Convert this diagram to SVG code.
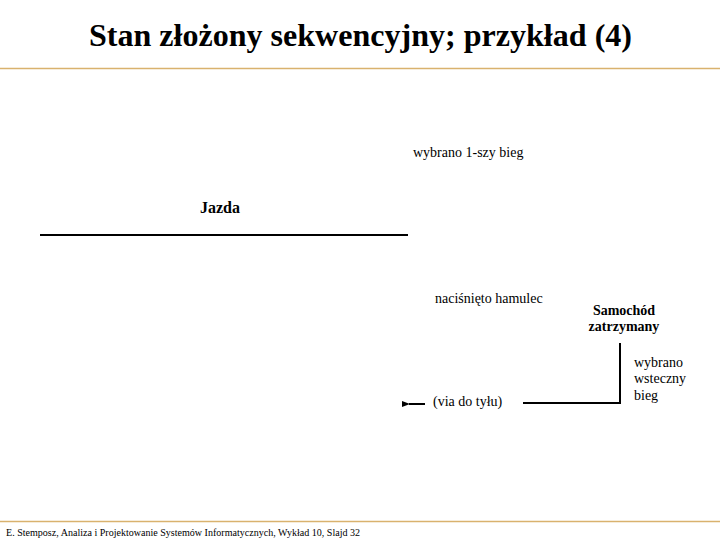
<svg xmlns="http://www.w3.org/2000/svg" width="720" height="540" viewBox="0 0 720 540">
<style>
text{font-family:"Liberation Serif","Times New Roman",serif;fill:#000}
.t{font-size:14px}
.b{font-weight:bold}
.rule{stroke:#d9b26e;stroke-width:1.5}
.ln{stroke:#000;stroke-width:2;fill:none}
</style>
<defs>
<marker id="ah" markerWidth="8" markerHeight="8" refX="1" refY="4" orient="auto" markerUnits="userSpaceOnUse">
<path d="M8,1 L0,4 L8,7 Z" fill="#000"/>
</marker>
</defs>
<rect width="720" height="540" fill="#fff"/>
<text x="89" y="46" textLength="543" lengthAdjust="spacingAndGlyphs" class="b" style="font-size:32px">Stan złożony sekwencyjny; przykład (4)</text>
<line class="rule" x1="0" y1="68.5" x2="720" y2="68.5"/>
<line class="rule" x1="0" y1="521.5" x2="720" y2="521.5"/>
<g id="jazda">
<text x="200" y="213" class="b" style="font-size:16px">Jazda</text>
<line class="ln" x1="40" y1="235" x2="408" y2="235"/>
</g>
<g id="samochod">
<text x="624" y="315" text-anchor="middle" class="t b">Samochód</text>
<text x="624" y="331" text-anchor="middle" class="t b">zatrzymany</text>
</g>
<g id="labels">
<text x="413" y="157" class="t">wybrano 1-szy bieg</text>
<text x="435" y="303" class="t">naciśnięto hamulec</text>
<text x="433" y="406" class="t">(via do tyłu)</text>
<text x="634" y="367" class="t">wybrano</text>
<text x="634" y="383" class="t">wsteczny</text>
<text x="634" y="400" class="t">bieg</text>
</g>
<g id="connectors">
<polyline class="ln" points="620,343 620,403 523,403"/>
<line class="ln" x1="425" y1="404" x2="409" y2="404" marker-end="url(#ah)"/>
</g>
<text x="6" y="536" textLength="354" lengthAdjust="spacingAndGlyphs" style="font-size:11px">E. Stemposz, Analiza i Projektowanie Systemów Informatycznych, Wykład 10, Slajd 32</text>
</svg>
